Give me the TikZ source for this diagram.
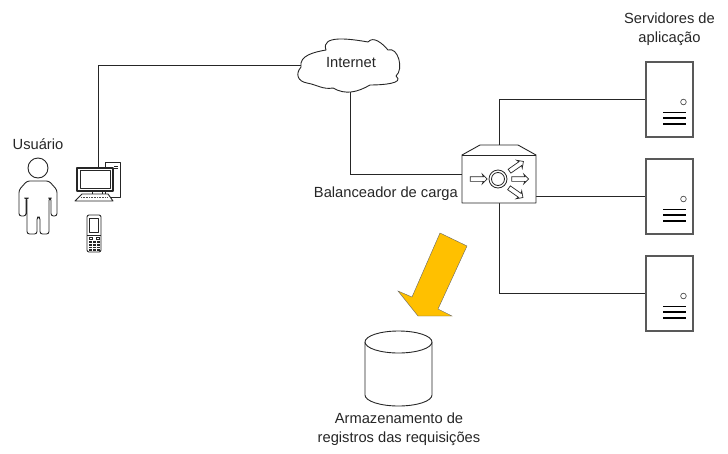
\documentclass[tikz,border=0pt]{standalone}
\usepackage{fontspec}
\setmainfont{Liberation Sans}
\usetikzlibrary{shapes.arrows}
\definecolor{arrowyellow}{RGB}{255,192,0}
\tikzset{
  label text/.style={font=\fontsize{14.7}{19}\selectfont,align=center,inner sep=0pt,text=black!85},
  wire/.style={draw=black!85,line width=1pt},
  server/.style={draw=black!65,line width=1.1pt,fill=white,minimum width=47pt,minimum height=75pt,inner sep=0pt},
  small arrow/.style={single arrow,draw=black!85,fill=white,line width=0.7pt,minimum height=17pt,
    single arrow head extend=2.5pt,single arrow head indent=1pt,inner sep=2pt},
  outline/.style={draw=black!85,line width=0.9pt,fill=white,line join=round},
}
\begin{document}
\begin{tikzpicture}[x=1pt,y=-1pt]
  \useasboundingbox (0,0) rectangle (728,453);
  % nodes
  \node[minimum width=100pt,minimum height=56pt,inner sep=0pt] (internet) at (351,63) {};
  \node[minimum width=74pt,minimum height=48pt,inner sep=0pt] (balancer) at (499,179) {};
  \coordinate (balancertop) at (499,145);
  \coordinate (pc) at (98,168);
  \coordinate (cornerpc) at (98,65);
  \coordinate (cornerlb) at (350,174);
  \coordinate (leftlb) at (462,174);
  \coordinate (rightlb) at (536,196);
  \node[server] (s1) at (669.5,99.5) {};
  \node[server] (s2) at (669.5,196.5) {};
  \node[server] (s3) at (669.5,293.5) {};
  % connectors
  \draw[wire] (internet.west |- cornerpc) -- (cornerpc) -- (pc);
  \draw[wire] (internet.south -| cornerlb) -- (cornerlb) -- (leftlb);
  \draw[wire] (balancertop) |- (s1.west);
  \draw[wire] (rightlb) -- (s2.west |- rightlb);
  \draw[wire] (balancer.south) |- (s3.west);
  % cloud
  \draw[outline] (301,67) to[out=100,in=190] (326,50)
    to[out=110,in=170] (368,42)
    to[out=50,in=130] (388,50)
    to[out=20,in=40] (396,76)
    to[out=-40,in=0,looseness=1.1] (370,85)
    to[out=-150,in=-30] (333,88)
    to[out=-170,in=-10] (307,83)
    to[out=170,in=-130,looseness=1.4] cycle;
  \node[label text] (internettext) at (351,63) {Internet};
  % load balancer
  \draw[outline] (462,155) -- (480,145) -- (518,145) -- (536,155) -- (536,203) -- (462,203) -- cycle;
  \draw[wire,line width=0.8pt] (462,155) -- (536,155);
  \node[small arrow] (in) at (477.5,179) {};
  \node[small arrow] (out2) at (519,179) {};
  \node[small arrow,rotate=35] (out1) at (515.5,167) {};
  \node[small arrow,rotate=-35] (out3) at (515,192) {};
  \node[circle,draw=black!85,line width=0.8pt,minimum size=18pt,inner sep=0pt,fill=white] (ringa) at (498,179) {};
  \node[circle,draw=black!85,line width=0.8pt,minimum size=13pt,inner sep=0pt] (ringb) at (498,179) {};
  % servers
  \foreach \s in {s1,s2,s3} {
    \draw[black!70,line width=0.7pt] ([shift={(38,2.5)}]\s.west) circle (2.8pt);
    \foreach \k in {13,18.5,24.5}
      \draw[black,line width=1.9pt] ([shift={(18,\k)}]\s.west) -- ([shift={(41,\k)}]\s.west);
  }
  % user
  \draw[outline] (38,168) circle (10pt);
  \draw[outline,rounded corners=2.5pt] (27,181) -- (49,181) -- (57,190) -- (57,216) -- (51,216) -- (51,198) -- (49,198)
    -- (49,234) -- (40,234) -- (40,217) -- (37,217) -- (37,234) -- (27,234) -- (27,198) -- (26,198) -- (26,216)
    -- (19,216) -- (19,190) -- cycle;
  % computer
  \draw[outline] (105,162) rectangle (120,197);
  \draw[black!85,line width=0.6pt] (114,166) -- (118,166) (114,168) -- (118,168);
  \draw[outline,line width=1.1pt] (77,168) rectangle (113,191);
  \draw[outline,line width=0.6pt] (80,170) rectangle (110.5,188);
  \draw[outline] (92,191) -- (92,195) (102,191) -- (102,195);
  \draw[outline] (82,194) -- (108,194) -- (113,201) -- (75,201) -- cycle;
  \draw[black!70,line width=1.6pt,dash pattern=on 1pt off 0.6pt] (81,197.5) -- (107,197.5);
  % phone
  \draw[outline,rounded corners=2pt] (87,215) rectangle (101,252);
  \draw[outline,line width=0.6pt] (89,218) rectangle (98.5,232);
  \draw[black!85,line width=0.6pt] (87,235) -- (101,235);
  \draw[black!85,line width=0.6pt] (89,237) rectangle (92,239) (96,237) rectangle (99,239);
  \fill[black!85] (89,241) rectangle (99.5,250.5);
  \foreach \y in {243.4,245.8,248.2}
    \draw[white,line width=0.4pt] (89,\y) -- (99.5,\y);
  \foreach \x in {92.5,96}
    \draw[white,line width=0.4pt] (\x,241) -- (\x,250.5);
  % arrow
  \draw[draw=black!60,fill=arrowyellow,line width=0.4pt] (440,233) -- (467,246) -- (438,309) -- (452,316)
    -- (418,316) -- (398,291) -- (412,297) -- cycle;
  % storage
  \draw[outline] (365,342) -- (365,395) arc[start angle=180,end angle=360,x radius=33.5,y radius=-11] -- (432,342);
  \draw[outline] (398.5,342) ellipse [x radius=33.5,y radius=11];
  % labels
  \node[label text] (user) at (38,144) {Usuário};
  \node[label text,anchor=east] (balancerlabel) at (458,194) {Balanceador de carga};
  \node[label text] (servers) at (669.5,29.5) {Servidores de\\aplicação};
  \node[label text] (storagelabel) at (399,429.5) {Armazenamento de\\registros das requisições};
\end{tikzpicture}
\end{document}
